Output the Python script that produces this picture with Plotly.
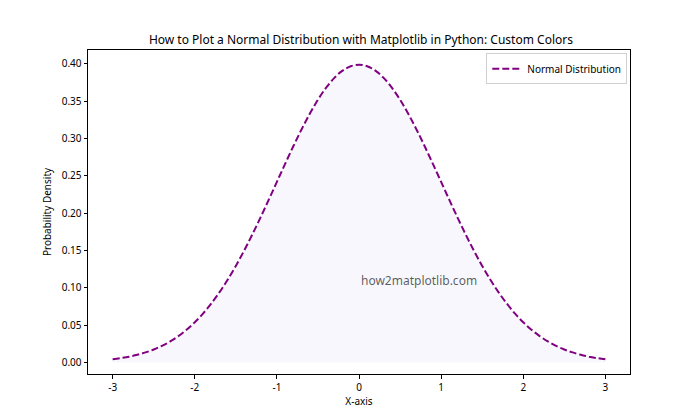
import plotly.graph_objects as go

x_values = [-3.0, -2.9, -2.8, -2.7, -2.6, -2.5, -2.4, -2.3, -2.2, -2.1, -2.0,
            -1.9, -1.8, -1.7, -1.6, -1.5, -1.4, -1.3, -1.2, -1.1, -1.0,
            -0.9, -0.8, -0.7, -0.6, -0.5, -0.4, -0.3, -0.2, -0.1, 0.0,
            0.1, 0.2, 0.3, 0.4, 0.5, 0.6, 0.7, 0.8, 0.9, 1.0,
            1.1, 1.2, 1.3, 1.4, 1.5, 1.6, 1.7, 1.8, 1.9, 2.0,
            2.1, 2.2, 2.3, 2.4, 2.5, 2.6, 2.7, 2.8, 2.9, 3.0]
density = [0.0044, 0.0060, 0.0079, 0.0104, 0.0136, 0.0175, 0.0224, 0.0283, 0.0355, 0.0440, 0.0540,
           0.0656, 0.0790, 0.0940, 0.1109, 0.1295, 0.1497, 0.1714, 0.1942, 0.2179, 0.2420,
           0.2661, 0.2897, 0.3123, 0.3332, 0.3521, 0.3683, 0.3814, 0.3910, 0.3970, 0.3989,
           0.3970, 0.3910, 0.3814, 0.3683, 0.3521, 0.3332, 0.3123, 0.2897, 0.2661, 0.2420,
           0.2179, 0.1942, 0.1714, 0.1497, 0.1295, 0.1109, 0.0940, 0.0790, 0.0656, 0.0540,
           0.0440, 0.0355, 0.0283, 0.0224, 0.0175, 0.0136, 0.0104, 0.0079, 0.0060, 0.0044]
x_ticks = [-3, -2, -1, 0, 1, 2, 3]
y_ticks = [0.00, 0.05, 0.10, 0.15, 0.20, 0.25, 0.30, 0.35, 0.40]
title_text = "How to Plot a Normal Distribution with Matplotlib in Python: Custom Colors"
series_name = "Normal Distribution"
watermark = "how2matplotlib.com"

FONT = "Segoe UI, Noto Sans, Open Sans, sans-serif"

fig = go.Figure()
fig.add_trace(go.Scatter(x=x_values, y=density, mode="lines", fill="tozeroy",
                         fillcolor="rgba(230,230,250,0.3)", line=dict(width=0),
                         showlegend=False, hoverinfo="skip"))
fig.add_trace(go.Scatter(x=x_values, y=density, mode="lines", name=series_name,
                         line=dict(color="#800080", width=2, dash="7px,3px"),
                         line_shape="spline"))

fig.add_annotation(x=0, y=0.1, xref="x", yref="y", text=watermark, showarrow=False,
                   xanchor="left", yanchor="bottom", yshift=-3,
                   font=dict(family=FONT, size=12, color="rgba(0,0,0,0.65)"))

axis_common = dict(showline=True, linecolor="black", linewidth=1, mirror=True,
                   ticks="outside", ticklen=3.5, tickcolor="black", showgrid=False,
                   zeroline=False, tickfont=dict(family=FONT, size=10, color="black"))

W, H = 692, 412
fig.update_layout(
    width=W, height=H,
    margin=dict(l=80, r=70, t=42, b=46),
    paper_bgcolor="white", plot_bgcolor="white",
    title=dict(text=title_text, x=0.51, xanchor="center", y=1 - 32 / H, yanchor="middle",
               yref="container", font=dict(family=FONT, size=12, color="black")),
    xaxis=dict(range=[-3.3, 3.3], tickvals=x_ticks, ticktext=[str(t) for t in x_ticks],
               title=dict(text="X-axis", font=dict(family=FONT, size=10, color="black"), standoff=4),
               **axis_common),
    yaxis=dict(range=[-0.0153, 0.4187], tickvals=y_ticks, ticktext=[f"{t:.2f}" for t in y_ticks],
               title=dict(text="Probability Density", font=dict(family=FONT, size=10, color="black"), standoff=8),
               **axis_common),
    legend=dict(x=0.995, xanchor="right", y=0.99, yanchor="top", bgcolor="white",
                bordercolor="#d0d0d0", borderwidth=1, itemwidth=30,
                font=dict(family=FONT, size=10, color="black")),
    showlegend=True,
)

fig.write_html("out.html")
